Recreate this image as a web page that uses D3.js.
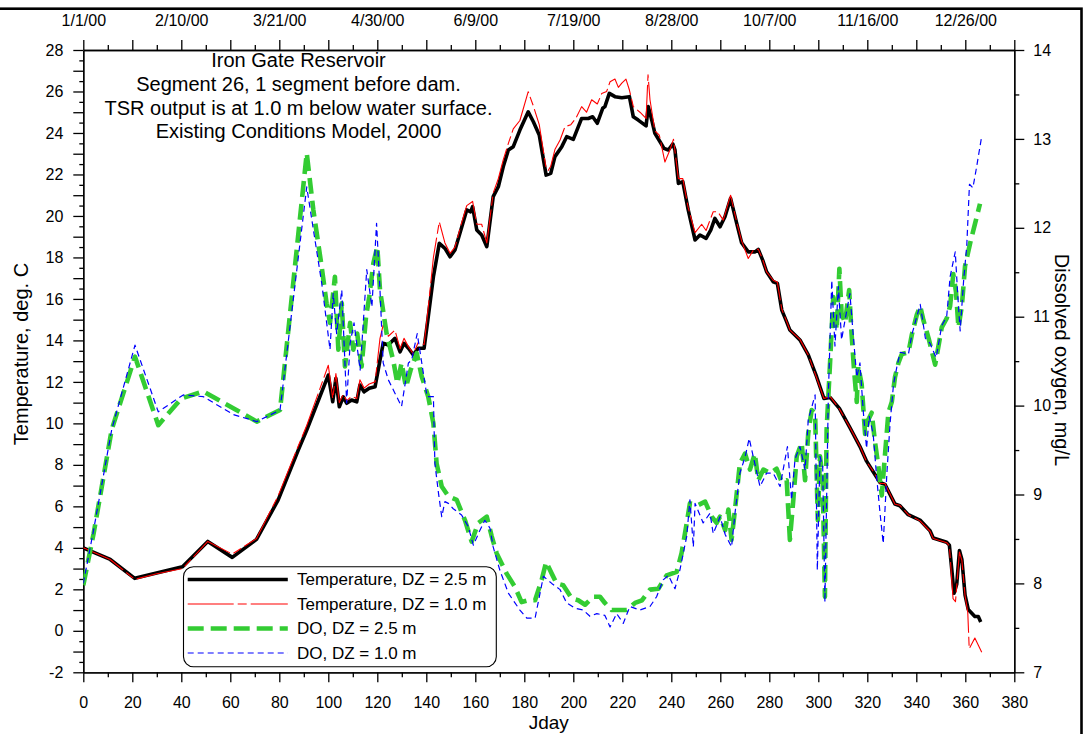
<!DOCTYPE html>
<html>
<head>
<meta charset="utf-8">
<script src="https://cdn.jsdelivr.net/npm/d3@7"></script>
<style>
  body { margin: 0; background: #fff; }
  svg { display: block; font-family: "Liberation Sans", Arial, Helvetica, sans-serif; }
</style>
</head>
<body>
<svg id="chart" width="1090" height="734"></svg>
<script>
// ---- Title and legend text ----
const titleLines = [
  "Iron Gate Reservoir",
  "Segment 26, 1 segment before dam.",
  "TSR output is at 1.0 m below water surface.",
  "Existing Conditions Model, 2000"
];
const seriesNames = [
  "Temperature, DZ = 2.5 m",
  "Temperature, DZ = 1.0 m",
  "DO, DZ = 2.5 m",
  "DO, DZ = 1.0 m"
];

// ---- Axis ticks ----
const jdayTicks = d3.range(0, 381, 20);
const dateTickDays = [0, 40, 80, 120, 160, 200, 240, 280, 320, 360];
const dateTickLabels = ["1/1/00", "2/10/00", "3/21/00", "4/30/00", "6/9/00",
                        "7/19/00", "8/28/00", "10/7/00", "11/16/00", "12/26/00"];
const tempTicks = d3.range(-2, 29, 2);
const doTicks = d3.range(7, 15, 1);

// ---- Series: [Jday, value] ----
const tempDZ25 = [
  [0,4.0],[11,3.44],[21,2.53],[40.5,3.09],[50.8,4.31],[60.8,3.54],[70.7,4.41],[79.5,6.3],
  [87.7,8.7],[91.2,9.68],[100,12.33],[101.8,11.04],[103.1,12.17],[104.5,10.8],[106.1,11.28],
  [107.5,10.97],[109.5,11.13],[111.6,11.04],[112.9,11.85],[114.6,11.52],[116.7,11.69],
  [119.1,11.77],[121.1,13.05],[122.4,13.86],[124.5,13.78],[127.2,14.1],[129.3,13.45],
  [130.9,13.86],[132.7,13.62],[134.7,13.3],[136.7,13.62],[139.1,13.62],[140.8,15.14],
  [142.9,17.07],[145.3,18.68],[147.6,18.44],[149.7,18.03],[151.7,18.36],[154.5,19.48],
  [156.5,20.29],[158.1,20.2],[158.9,20.45],[160.6,19.32],[162.6,19.08],[164.7,18.52],
  [167.3,20.93],[169.4,21.41],[171.4,22.37],[173.5,23.18],[175.5,23.34],[178.2,24.14],
  [181.6,25.02],[183.7,24.54],[186.1,23.9],[188.9,21.97],[190.8,22.05],[192.5,22.86],
  [195.3,23.34],[197.3,23.82],[200,23.69],[203.4,24.7],[206.1,24.7],[207.9,24.78],
  [209.8,24.47],[212,25.19],[212.9,25.27],[214.7,25.91],[217,25.75],[219.8,25.7],
  [222.9,25.75],[224.5,24.78],[226.5,24.62],[229.7,24.34],[230.6,25.27],[232.2,24.54],
  [233.3,23.98],[235.4,23.58],[237,23.26],[238.8,23.18],[240.6,23.47],[241.5,23.18],
  [242.9,21.57],[244.7,21.65],[246.9,20.29],[249.7,18.84],[251.7,19.08],[254.2,18.92],
  [256.1,19.32],[257.8,19.88],[259.9,19.48],[261.9,19.96],[264.2,20.85],[266.7,19.64],
  [268.7,18.71],[271.4,18.27],[274.2,18.27],[275.5,18.39],[277.3,17.87],[278.9,17.31],
  [281.6,16.83],[283.3,16.75],[285.1,15.46],[286.8,14.98],[288.4,14.5],[292.5,14.02],
  [295.9,13.3],[299.3,12.25],[302.3,11.2],[304.8,11.25],[308.6,10.72],[312.9,9.79],
  [317,8.88],[319.7,8.18],[322.4,7.67],[325.2,7.15],[327.2,7.06],[331.3,6.11],[333.3,6.03],
  [336.7,5.6],[341.5,5.34],[345.6,4.82],[346.9,4.47],[352.4,4.27],[353.5,4.13],[354.5,2.93],
  [355.4,1.81],[356.5,2.24],[357.6,3.87],[358.6,3.44],[359.9,1.72],[361.2,1.03],
  [363.9,0.69],[365.3,0.69],[366.3,0.43]
];

const tempDZ10 = [
  [0,4.0],[11,3.44],[21,2.48],[30,2.75],[40.5,3.0],[50.8,4.31],[60.8,3.7],[70.7,4.45],
  [79.5,6.5],[87.7,8.9],[91.2,9.9],[100,12.8],[101.8,11.2],[103.1,12.4],[104.5,11.0],
  [106.1,11.4],[107.5,11.1],[109.5,11.3],[111.6,11.2],[112.9,12.1],[114.6,11.7],[116.7,11.9],
  [119.1,12.0],[121.1,14.1],[122.4,14.74],[124.5,14.2],[127.2,14.5],[129.3,13.6],[130.9,14.1],
  [132.7,13.7],[134.7,13.35],[136.7,13.9],[139.1,13.8],[140.8,15.6],[142.9,18.0],[145.3,19.72],
  [147.6,18.7],[149.7,18.2],[151.7,18.5],[154.5,19.7],[156.5,20.5],[158.9,20.7],[160.6,19.6],
  [162.6,19.6],[164.7,18.7],[167.3,21.1],[169.4,21.8],[171.4,22.7],[173.5,23.5],[175.5,24.2],
  [178.2,24.6],[181.6,25.99],[183.7,25.3],[186.1,24.4],[188.9,22.3],[189.8,22.2],[190.8,22.4],
  [192.5,23.2],[194.6,23.66],[196.6,24.3],[199,24.4],[201,24.7],[203.4,25.27],[205.4,25.0],
  [207.5,25.6],[209.8,25.4],[211.6,25.9],[213.6,26.0],[215,26.47],[217,26.6],[218.4,26.2],
  [219.8,26.4],[221.5,26.6],[222.9,26.07],[224.5,25.27],[227.2,25.0],[229.7,24.7],[230.5,26.8],
  [231.3,25.6],[233.3,24.1],[235.1,23.9],[237.4,22.6],[239.5,23.2],[240.9,23.7],[242.9,21.8],
  [244.7,21.8],[246.9,20.4],[249.7,19.2],[252.4,19.6],[254.2,19.3],[257.1,20.2],[259,20.2],
  [261.2,19.8],[264.2,21.0],[266.7,19.7],[268.7,18.8],[271.4,17.95],[273.5,18.35],[275.5,18.4],
  [277.3,17.9],[278.9,17.3],[281.6,16.9],[283.3,16.8],[285.1,15.5],[286.8,15.0],[288.4,14.5],
  [292.5,14.05],[295.9,13.3],[299.3,12.2],[302.3,11.2],[304.8,11.3],[308.6,10.7],[312.9,9.8],
  [317,8.9],[319.7,8.15],[322.4,7.7],[325.2,7.1],[327.2,7.1],[331.3,6.1],[333.3,6.05],
  [336.7,5.6],[341.5,5.3],[345.6,4.8],[346.9,4.45],[352.4,4.25],[353.5,4.1],[355,1.55],
  [356,1.4],[357.6,3.8],[358.6,3.4],[359.9,1.7],[361,0.9],[361.6,-0.86],[363.9,-0.35],
  [366.7,-1.03]
];

const doDZ25 = [
  [0,7.98],[4.2,8.56],[11.6,9.73],[21.1,10.55],[30.6,9.78],[40,10.08],[49,10.16],[61.2,9.97],
  [70.8,9.82],[80.3,9.95],[91.2,12.84],[93.9,12.2],[97.3,11.56],[99.3,11.15],[100.7,10.93],
  [102.7,11.45],[104.1,10.63],[105.5,11.15],[106.8,10.44],[108.9,10.93],[110.2,10.63],
  [111.8,10.81],[113.6,10.44],[115.4,11.0],[116.7,11.22],[118.4,11.6],[120,11.79],[121.1,11.3],
  [123.8,10.81],[126.5,10.51],[128.2,10.25],[129.9,10.48],[131.7,10.21],[133.6,10.4],
  [136.1,10.59],[138.1,10.33],[140.8,10.1],[142.9,9.8],[144.2,9.35],[146.3,9.09],[149,8.98],
  [152.4,8.94],[155.8,8.71],[158.5,8.47],[161.2,8.68],[164.7,8.75],[166.7,8.53],[168.7,8.34],
  [172.8,8.11],[176.2,7.96],[178.9,7.79],[181.6,7.81],[184.4,7.81],[187.1,8.04],[188.9,8.24],
  [191.2,8.11],[193.2,8.0],[195.9,7.98],[199.4,7.83],[202,7.81],[204.8,7.76],[208.2,7.85],
  [210.9,7.85],[212.9,7.78],[215.7,7.7],[219.1,7.7],[221.8,7.7],[225.2,7.78],[228,7.81],
  [231.3,7.93],[234.7,7.94],[238.1,8.09],[242.2,8.13],[244.2,8.34],[246.3,8.68],[247.6,8.9],
  [250.9,8.88],[253.8,8.92],[256.5,8.75],[258.5,8.68],[259.9,8.75],[262,8.6],[263.3,8.83],
  [264.6,8.49],[266,8.83],[268,9.35],[270.1,9.46],[272.1,9.28],[274.1,9.46],[275.5,9.16],
  [277.6,9.28],[280.3,9.24],[283,9.29],[285.1,9.14],[287.1,9.16],[288.4,8.49],[289.8,8.94],
  [291.2,9.43],[293.2,9.58],[294.6,9.16],[295.9,9.69],[297.3,9.95],[298.7,9.91],[299.8,8.71],
  [300.7,9.43],[301.8,9.16],[302.7,7.85],[303.4,9.73],[304.8,10.48],[306.1,11.22],[307.5,10.85],
  [308.6,11.54],[309.5,11.04],[310.9,10.93],[312.6,11.3],[313.6,10.8],[314.6,10.4],[315.7,10.04],
  [316.3,10.44],[317.7,10.24],[319.1,9.68],[320.4,9.84],[321.8,9.92],[323.1,9.6],[324.5,9.32],
  [325.9,8.99],[327.2,9.44],[328.6,9.92],[330,10.04],[331.3,10.32],[332.7,10.48],[334.1,10.58],
  [336.8,10.6],[338.2,10.8],[340.2,11.02],[341.6,11.12],[342.9,10.96],[345,10.76],[347.7,10.46],
  [350.4,10.88],[352.4,10.98],[353.8,11.12],[355.1,11.48],[356.2,11.28],[357.2,10.88],
  [358.6,11.12],[359.9,11.57],[362,11.83],[364,12.05],[366,12.27]
];

const doDZ10 = [
  [0,8.0],[4.2,8.6],[11.6,9.73],[21.1,10.68],[30.6,9.93],[40.8,10.12],[49,10.1],[61.2,9.9],
  [70.8,9.82],[80.3,9.95],[91.2,12.46],[93.9,11.98],[97.3,11.38],[100.7,10.63],[102,11.26],
  [103.4,10.81],[105.5,11.3],[107.5,10.03],[108.9,10.7],[110.5,10.93],[113,10.4],[115.7,11.53],
  [117.8,11.11],[119.7,12.05],[121.1,11.3],[122.4,10.48],[124.5,10.29],[127.2,10.14],
  [129.9,9.99],[132.7,10.48],[134,10.51],[136.3,10.81],[138.6,10.4],[140.3,10.1],[142.9,10.1],
  [143.5,9.35],[145,9.01],[146.3,8.75],[147.6,8.92],[149,8.9],[151,8.84],[154.4,8.77],
  [157.1,8.64],[159.2,8.43],[161.6,8.58],[163.9,8.71],[166,8.62],[167.3,8.41],[170,8.15],
  [173.5,7.89],[178.2,7.7],[181,7.61],[184.4,7.61],[187.8,8.08],[191.2,8.0],[194.6,7.93],
  [197.3,7.78],[200.7,7.72],[204.1,7.7],[206.8,7.63],[209.6,7.66],[212.9,7.64],[215,7.51],
  [217.7,7.66],[220.4,7.55],[223.1,7.74],[227.2,7.7],[231.3,7.74],[234,7.85],[236.7,8.04],
  [238.8,8.09],[241.5,7.94],[243.5,8.15],[246.3,8.53],[247.6,8.94],[249,8.41],[249.7,8.9],
  [253,8.68],[255.8,8.79],[257.1,8.56],[259.9,8.75],[262,8.55],[264.6,8.41],[266,8.79],
  [268,9.24],[270.1,9.42],[271.8,9.63],[273.5,9.42],[276.2,9.09],[278.9,9.24],[281.6,9.24],
  [284.4,9.09],[287.4,9.54],[289.1,8.94],[290.5,9.4],[292.5,9.54],[294.6,9.28],[295.9,9.84],
  [298.7,10.12],[299.6,8.15],[300.7,9.43],[301.8,9.31],[302.7,7.79],[304.1,10.12],[305.5,11.41],
  [306.8,10.67],[308.2,11.34],[309.5,10.74],[310.9,10.96],[312.9,11.26],[314.3,10.78],
  [315.7,10.32],[317,10.48],[318.4,9.92],[319.7,9.52],[320.8,9.88],[322.4,9.68],[323.8,9.2],
  [325.2,8.79],[326.5,8.45],[328,9.24],[329.3,9.8],[330.7,10.24],[332.1,10.44],[333.4,10.6],
  [336.8,10.58],[338.2,10.8],[341.6,11.14],[343.7,10.76],[345.6,10.7],[348.1,10.54],
  [350.4,10.9],[352.4,11.0],[353.8,11.45],[355.9,11.73],[356.9,11.25],[357.9,10.84],
  [359.3,11.4],[360.6,11.8],[361.7,12.49],[363.1,12.45],[364.4,12.65],[366.7,13.03]
];

// ---- Layout ----
const svg = d3.select("#chart");
const plot = { left: 83.3, right: 1014.3, top: 50, bottom: 672.3 };

const x = d3.scaleLinear().domain([0, 380]).range([plot.left, plot.right]);
const yT = d3.scaleLinear().domain([-2, 28]).range([plot.bottom, plot.top]);
const yDO = d3.scaleLinear().domain([7, 14]).range([plot.bottom, plot.top]);

// outer frame (only top and right edges fall inside the page)
svg.append("rect")
  .attr("x", -20).attr("y", 8.7)
  .attr("width", 1081.5 + 20).attr("height", 760)
  .attr("fill", "none").attr("stroke", "#000").attr("stroke-width", 2.6);

svg.append("defs").append("clipPath").attr("id", "plotClip")
  .append("rect")
  .attr("x", plot.left).attr("y", plot.top)
  .attr("width", plot.right - plot.left).attr("height", plot.bottom - plot.top);

// ---- Axes ----
const fontSize = 16;
function styleAxis(g) {
  g.select(".domain").attr("stroke", "#000").attr("stroke-width", 1.3);
  g.selectAll(".tick line").attr("stroke", "#000").attr("stroke-width", 1.3);
  g.selectAll(".tick text").attr("fill", "#000").attr("font-size", fontSize)
    .attr("font-family", "Liberation Sans, Arial, sans-serif");
}

// left: temperature
svg.append("g").attr("transform", `translate(${plot.left},0)`)
  .call(d3.axisLeft(yT).tickValues(d3.range(-2, 28.01, 0.5).filter(v => v % 1 !== 0))
    .tickSize(4).tickSizeOuter(0).tickFormat(""))
  .call(styleAxis);
svg.append("g").attr("transform", `translate(${plot.left},0)`)
  .call(d3.axisLeft(yT).tickValues(d3.range(-2, 28.01, 1))
    .tickSize(10).tickSizeOuter(0).tickPadding(10)
    .tickFormat(d => tempTicks.includes(d) ? d : ""))
  .call(styleAxis);

// right: dissolved oxygen
svg.append("g").attr("transform", `translate(${plot.right},0)`)
  .call(d3.axisRight(yDO).tickValues(d3.range(7.5, 14, 1))
    .tickSize(5).tickSizeOuter(0).tickFormat(""))
  .call(styleAxis);
svg.append("g").attr("transform", `translate(${plot.right},0)`)
  .call(d3.axisRight(yDO).tickValues(doTicks)
    .tickSize(10).tickSizeOuter(0).tickPadding(9).tickFormat(d3.format("d")))
  .call(styleAxis);

// bottom: Jday
svg.append("g").attr("transform", `translate(0,${plot.bottom})`)
  .call(d3.axisBottom(x).tickValues(d3.range(10, 380, 20))
    .tickSize(5).tickSizeOuter(0).tickFormat(""))
  .call(styleAxis);
svg.append("g").attr("transform", `translate(0,${plot.bottom})`)
  .call(d3.axisBottom(x).tickValues(jdayTicks)
    .tickSize(10).tickSizeOuter(0).tickPadding(14.5).tickFormat(d3.format("d")))
  .call(styleAxis);

// top: calendar dates
svg.append("g").attr("transform", `translate(0,${plot.top})`)
  .call(d3.axisTop(x).tickValues(d3.range(10, 380, 20))
    .tickSize(5).tickSizeOuter(0).tickFormat(""))
  .call(styleAxis);
svg.append("g").attr("transform", `translate(0,${plot.top})`)
  .call(d3.axisTop(x).tickValues(jdayTicks)
    .tickSize(10).tickSizeOuter(0).tickPadding(14.5)
    .tickFormat(d => {
      const i = dateTickDays.indexOf(d);
      return i >= 0 ? dateTickLabels[i] : "";
    }))
  .call(styleAxis);

// ---- Axis titles ----
svg.append("text")
  .attr("transform", "translate(27.5,354) rotate(-90)")
  .attr("text-anchor", "middle").attr("font-size", 20)
  .text("Temperature, deg. C");
svg.append("text")
  .attr("transform", "translate(1055,360) rotate(90)")
  .attr("text-anchor", "middle").attr("font-size", 20)
  .text("Dissolved oxygen, mg/L");
svg.append("text")
  .attr("x", (plot.left + plot.right) / 2).attr("y", 729)
  .attr("text-anchor", "middle").attr("font-size", 19)
  .text("Jday");

// ---- Chart title ----
const titleBaselines = [67, 91, 114.5, 138];
svg.append("g").selectAll("text").data(titleLines).join("text")
  .attr("x", 298.5).attr("y", (d, i) => titleBaselines[i])
  .attr("text-anchor", "middle").attr("font-size", 20)
  .text(d => d);

// ---- Series ----
const styles = [
  { color: "#000000", width: 3.6, dash: null },
  { color: "#ff0000", width: 1.1, dash: "46,4,9,4" },
  { color: "#33cc33", width: 4.6, dash: "16,7" },
  { color: "#0000ff", width: 1.2, dash: "6,4" }
];
const series = [
  { data: tempDZ25, y: yT },
  { data: tempDZ10, y: yT },
  { data: doDZ25, y: yDO },
  { data: doDZ10, y: yDO }
];

const lines = svg.append("g").attr("clip-path", "url(#plotClip)");
series.forEach((s, i) => {
  const line = d3.line().x(d => x(d[0])).y(d => s.y(d[1]));
  lines.append("path")
    .datum(s.data)
    .attr("d", line)
    .attr("fill", "none")
    .attr("stroke", styles[i].color)
    .attr("stroke-width", styles[i].width)
    .attr("stroke-linejoin", "round")
    .attr("stroke-dasharray", styles[i].dash);
});

// ---- Legend ----
const legend = svg.append("g");
legend.append("rect")
  .attr("x", 183.5).attr("y", 566.7)
  .attr("width", 312.8).attr("height", 100)
  .attr("rx", 10).attr("ry", 10)
  .attr("fill", "#fff").attr("stroke", "#000").attr("stroke-width", 1.1);
const legendY = [579.5, 604, 628.5, 653];
seriesNames.forEach((name, i) => {
  legend.append("line")
    .attr("x1", 187.7).attr("x2", 287.8)
    .attr("y1", legendY[i]).attr("y2", legendY[i])
    .attr("stroke", styles[i].color)
    .attr("stroke-width", styles[i].width)
    .attr("stroke-dasharray", styles[i].dash);
  legend.append("text")
    .attr("x", 297).attr("y", legendY[i]).attr("dy", "0.35em")
    .attr("font-size", 17)
    .text(name);
});
</script>
</body>
</html>
